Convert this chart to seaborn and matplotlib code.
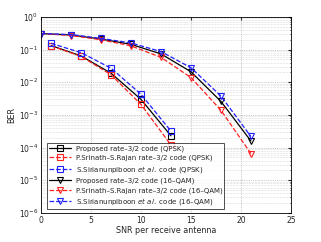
import matplotlib
matplotlib.use("Agg")
import matplotlib.pyplot as plt
import seaborn as sns
import pandas as pd

# SNR points (dB)
snr_qpsk = [1, 4, 7, 10, 13]
snr_qam = [0, 3, 6, 9, 12, 15, 18, 21]

# BER values
ber_prop_qpsk = [0.133, 0.064, 0.019, 0.0030, 2.3e-4]
ber_srinath_qpsk = [0.130, 0.062, 0.017, 0.0021, 1.2e-4]
ber_siri_qpsk = [0.155, 0.081, 0.027, 0.0043, 3.2e-4]
ber_prop_qam = [0.31, 0.28, 0.21, 0.145, 0.074, 0.021, 0.0026, 1.6e-4]
ber_srinath_qam = [0.31, 0.27, 0.20, 0.130, 0.058, 0.014, 0.0014, 6.6e-5]
ber_siri_qam = [0.31, 0.29, 0.22, 0.160, 0.087, 0.028, 0.0038, 2.2e-4]

labels = [
    "Proposed rate\u20133/2 code (QPSK)",
    "P.Srinath\u2013S.Rajan rate\u20133/2 code (QPSK)",
    "S.Sirianunpiboon $\\mathit{et\\ al.}$ code (QPSK)",
    "Proposed rate\u20133/2 code (16\u2013QAM)",
    "P.Srinath\u2013S.Rajan rate\u20133/2 code (16\u2013QAM)",
    "S.Sirianunpiboon $\\mathit{et\\ al.}$ code (16\u2013QAM)",
]

series = [
    (snr_qpsk, ber_prop_qpsk, "black", "-", "s"),
    (snr_qpsk, ber_srinath_qpsk, "#ff2020", "--", "s"),
    (snr_qpsk, ber_siri_qpsk, "#2020ff", "--", "s"),
    (snr_qam, ber_prop_qam, "black", "-", "v"),
    (snr_qam, ber_srinath_qam, "#ff2020", "--", "v"),
    (snr_qam, ber_siri_qam, "#2020ff", "--", "v"),
]

sns.set_style("white")
plt.rcParams["font.family"] = ["DejaVu Sans"]
plt.rcParams["mathtext.fontset"] = "dejavusans"

fig, ax = plt.subplots(figsize=(3.21, 2.42), dpi=100)
fig.subplots_adjust(left=0.128, right=0.906, top=0.93, bottom=0.12)

for (x, y, color, ls, marker), label in zip(series, labels):
    df = pd.DataFrame({"snr": x, "ber": y})
    sns.lineplot(data=df, x="snr", y="ber", ax=ax, color=color, linestyle=ls,
                 linewidth=0.9, marker=marker, markersize=4, markerfacecolor="none",
                 markeredgecolor=color, markeredgewidth=0.8, label=label)

ax.set_yscale("log")
ax.set_xlim(0, 25)
ax.set_ylim(1e-6, 1)
ax.set_xticks([0, 5, 10, 15, 20, 25])
ax.grid(True, which="major", linestyle=":", color="#999999", linewidth=0.5)
ax.grid(True, which="minor", linestyle=":", color="#bbbbbb", linewidth=0.4)
ax.tick_params(axis="both", which="both", direction="in", labelsize=5.5, length=2,
               top=True, right=True, pad=2)
ax.tick_params(axis="both", which="minor", length=1)
for s in ax.spines.values():
    s.set_linewidth(0.6)
    s.set_color("black")

ax.set_xlabel("SNR per receive antenna", fontsize=5.8, labelpad=1)
ax.set_ylabel("BER", fontsize=5.8, labelpad=2)

leg = ax.legend(loc="lower left", fontsize=5.0, handlelength=3.2, borderpad=0.3,
                labelspacing=0.4, handletextpad=0.6, frameon=True, fancybox=False,
                bbox_to_anchor=(0.01, 0.0))
leg.get_frame().set_edgecolor("black")
leg.get_frame().set_linewidth(0.6)

fig.savefig("out.png", dpi=100)
